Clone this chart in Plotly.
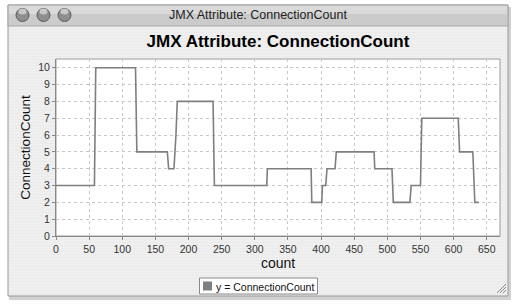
import plotly.graph_objects as go

# ---- data (vertices of the step-like series) ----
count = [0, 58, 60, 120, 122, 168, 170, 178, 181, 183, 237, 239, 318, 319,
         385, 386, 401, 402, 407, 409, 421, 423, 480, 481, 507, 509, 534,
         536, 550, 552, 607, 609, 629, 632, 638]
connection_count = [3, 3, 10, 10, 5, 5, 4, 4, 6, 8, 8, 3, 3, 4,
                    4, 2, 2, 3, 3, 4, 4, 5, 5, 4, 4, 2, 2,
                    3, 3, 7, 7, 5, 5, 2, 2]
x_ticks = list(range(0, 651, 50))
y_ticks = list(range(0, 11))
series_name = "y = ConnectionCount"

W, H = 516, 308
L, R, T, B = 56, 500, 59, 236  # plot area in px


def px(x):
    return (x - L) / (R - L)


def py(y):
    return (B - y) / (B - T)


FONT = "Liberation Sans, Arial, sans-serif"
LINE = "#7f7f7f"

fig = go.Figure()
fig.add_trace(go.Scatter(x=count, y=connection_count, mode="lines",
                         line=dict(color=LINE, width=1.6),
                         name=series_name, showlegend=False, hoverinfo="x+y"))

shapes = []
# window shadow
shapes.append(dict(type="rect", xref="paper", yref="paper",
                   x0=px(9), x1=px(511), y0=py(300), y1=py(7),
                   fillcolor="rgba(0,0,0,0.18)", line=dict(width=0), layer="below"))
# window body
shapes.append(dict(type="rect", xref="paper", yref="paper",
                   x0=px(8), x1=px(508), y0=py(296), y1=py(5),
                   fillcolor="#ebebeb", line=dict(color="#9a9a9a", width=1), layer="below"))
# title bar
shapes.append(dict(type="rect", xref="paper", yref="paper",
                   x0=px(8), x1=px(508), y0=py(26), y1=py(5),
                   fillcolor="#cbcbcb", line=dict(color="#a8a8a8", width=1), layer="below"))
shapes.append(dict(type="rect", xref="paper", yref="paper",
                   x0=px(9), x1=px(507), y0=py(14), y1=py(6),
                   fillcolor="#dadada", line=dict(width=0), layer="below"))
# subtle pinstripes on window body
for yy in range(28, 295, 3):
    shapes.append(dict(type="line", xref="paper", yref="paper",
                       x0=px(9), x1=px(507), y0=py(yy), y1=py(yy),
                       line=dict(color="#f3f3f3", width=1), layer="below"))
# plot area background
shapes.append(dict(type="rect", xref="paper", yref="paper",
                   x0=0, x1=1, y0=0, y1=1,
                   fillcolor="white", line=dict(color="#9a9a9a", width=1), layer="below"))
# traffic lights (graphite)
for cx in (22.5, 43.5, 64.5):
    shapes.append(dict(type="circle", xref="paper", yref="paper",
                       x0=px(cx - 6.5), x1=px(cx + 6.5), y0=py(15 + 6.5), y1=py(15 - 6.5),
                       fillcolor="#8e8e8e", line=dict(color="#5a5a5a", width=1), layer="above"))
    shapes.append(dict(type="circle", xref="paper", yref="paper",
                       x0=px(cx - 4), x1=px(cx + 4), y0=py(13.5 + 1), y1=py(13.5 - 5),
                       fillcolor="#c8c8c8", line=dict(width=0), layer="above"))
# resize grip
for d in (3, 6, 9):
    shapes.append(dict(type="line", xref="paper", yref="paper",
                       x0=px(506 - d), x1=px(506), y0=py(293), y1=py(293 - d),
                       line=dict(color="#8a8a8a", width=1), layer="above"))
# legend box + swatch
shapes.append(dict(type="rect", xref="paper", yref="paper",
                   x0=px(199.5), x1=px(317.5), y0=py(294), y1=py(278),
                   fillcolor="white", line=dict(color="#8a8a8a", width=1), layer="above"))
shapes.append(dict(type="rect", xref="paper", yref="paper",
                   x0=px(203), x1=px(212), y0=py(290.5), y1=py(281.5),
                   fillcolor=LINE, line=dict(width=0), layer="above"))

annotations = [
    dict(text="JMX Attribute: ConnectionCount", xref="paper", yref="paper",
         x=px(258), y=py(15), showarrow=False,
         font=dict(family=FONT, size=12.5, color="#222"), xanchor="center", yanchor="middle"),
    dict(text=series_name, xref="paper", yref="paper",
         x=px(214), y=py(286.5), showarrow=False,
         font=dict(family=FONT, size=10.5, color="#111"), xanchor="left", yanchor="middle"),
]

fig.update_layout(
    width=W, height=H,
    margin=dict(l=L, r=W - R, t=T, b=H - B),
    paper_bgcolor="white", plot_bgcolor="white",
    shapes=shapes, annotations=annotations, showlegend=False,
    title=dict(text="<b>JMX Attribute: ConnectionCount</b>", x=0.5, xref="paper",
               y=1 - 41 / H, yanchor="middle",
               font=dict(family=FONT, size=17, color="#000")),
    font=dict(family=FONT, color="#333"),
    xaxis=dict(range=[0, 670], tickvals=x_ticks, ticktext=[str(v) for v in x_ticks],
               showgrid=True, gridcolor="#c8c8c8", griddash="dot", gridwidth=1,
               ticks="outside", ticklen=3, tickcolor="#888",
               showline=True, linecolor="#888", linewidth=1, zeroline=False,
               tickfont=dict(size=10.5, color="#333"),
               title=dict(text="count", font=dict(size=14, color="#111"), standoff=3)),
    yaxis=dict(range=[0, 10.52], tickvals=y_ticks, ticktext=[str(v) for v in y_ticks],
               showgrid=True, gridcolor="#c8c8c8", griddash="dot", gridwidth=1,
               ticks="outside", ticklen=3, tickcolor="#888",
               showline=True, linecolor="#888", linewidth=1, zeroline=False,
               tickfont=dict(size=10.5, color="#333"),
               title=dict(text="ConnectionCount", font=dict(size=13.5, color="#111"), standoff=4)),
)

fig.write_html("out.html")
